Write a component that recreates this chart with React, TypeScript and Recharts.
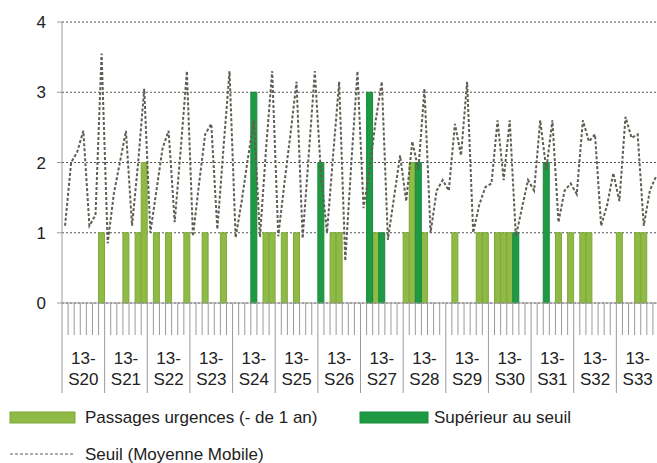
import React from "react";
import {
  ComposedChart,
  Bar,
  Line,
  XAxis,
  YAxis,
  CartesianGrid,
  Legend,
} from "recharts";

const FONT = '"Liberation Sans", Arial, sans-serif';
const LIGHT = "#8fba45";
const LIGHT_EDGE = "#7fa83a";
const DARK = "#1f9a44";
const DARK_EDGE = "#188a3a";
const LINE = "#5e5e52";

// 14 weeks, one row = one week (7 days)
const year = "13-";
const weeks = ["S20", "S21", "S22", "S23", "S24", "S25", "S26", "S27", "S28", "S29", "S30", "S31", "S32", "S33"];

// Passages urgences (- de 1 an), under the threshold
const passages = [
  0, 0, 0, 0, 0, 0, 1,
  0, 0, 0, 1, 0, 1, 2,
  0, 1, 0, 1, 0, 0, 1,
  0, 0, 1, 0, 0, 1, 0,
  0, 0, 0, 0, 0, 1, 1,
  0, 1, 0, 1, 0, 0, 0,
  0, 0, 1, 1, 0, 0, 0,
  0, 0, 1, 0, 0, 0, 0,
  1, 2, 0, 1, 0, 0, 0,
  0, 1, 0, 0, 0, 1, 1,
  0, 1, 1, 1, 0, 0, 0,
  0, 0, 0, 0, 1, 0, 1,
  0, 1, 1, 0, 0, 0, 0,
  1, 0, 0, 1, 1, 0, 0,
];

// Supérieur au seuil
const superieur = [
  0, 0, 0, 0, 0, 0, 0,
  0, 0, 0, 0, 0, 0, 0,
  0, 0, 0, 0, 0, 0, 0,
  0, 0, 0, 0, 0, 0, 0,
  0, 0, 0, 3, 0, 0, 0,
  0, 0, 0, 0, 0, 0, 0,
  2, 0, 0, 0, 0, 0, 0,
  0, 3, 0, 1, 0, 0, 0,
  0, 0, 2, 0, 0, 0, 0,
  0, 0, 0, 0, 0, 0, 0,
  0, 0, 0, 0, 1, 0, 0,
  0, 0, 2, 0, 0, 0, 0,
  0, 0, 0, 0, 0, 0, 0,
  0, 0, 0, 0, 0, 0, 0,
];

// Seuil (Moyenne Mobile)
const seuil = [
  1.1, 2.0, 2.15, 2.45, 1.1, 1.25, 3.55,
  0.85, 1.55, 2.0, 2.45, 1.1, 2.0, 3.05,
  1.0, 1.6, 2.2, 2.45, 1.15, 2.2, 3.3,
  0.95, 1.7, 2.4, 2.55, 1.05, 2.2, 3.3,
  0.93, 1.45, 2.05, 2.6, 0.94, 2.2, 3.3,
  0.95, 1.7, 2.4, 3.15, 0.92, 2.1, 3.3,
  1.85, 1.0, 2.1, 3.15, 0.6, 2.0, 3.3,
  1.35, 1.9, 2.6, 3.15, 0.9, 1.5, 2.1,
  1.45, 2.3, 1.9, 3.05, 1.0, 1.6, 1.75,
  1.6, 2.55, 2.1, 3.15, 1.0, 1.4, 1.65,
  1.7, 2.6, 1.75, 2.6, 0.95, 1.35, 1.75,
  1.6, 2.6, 1.9, 2.6, 1.15, 1.6, 1.7,
  1.55, 2.6, 2.3, 2.4, 1.1, 1.4, 1.85,
  1.45, 2.65, 2.35, 2.4, 1.1, 1.6, 1.8,
];

const data = seuil.map((s, i) => ({
  day: i,
  passages: passages[i],
  superieur: superieur[i],
  seuil: s,
}));

const CHART_W = 659;
const LEFT = 62;
const DAY_W = (CHART_W - LEFT) / data.length;

// ticks sit between days, week separators run down through the labels
function DayTick(props: any) {
  const { x, y, payload } = props;
  const i = Number(payload.value);
  const left = x - DAY_W / 2;
  const weekStart = i % 7 === 0;
  return (
    <g>
      <line x1={left} x2={left} y1={y} y2={y + (weekStart ? 90 : 32)} stroke="#9a9a9a" />
      {i % 7 === 3 && (
        <text textAnchor="middle" fontFamily={FONT} fontSize={17} fill="#222">
          <tspan x={x} y={y + 61}>{year}</tspan>
          <tspan x={x} y={y + 82}>{weeks[Math.floor(i / 7)]}</tspan>
        </text>
      )}
    </g>
  );
}

function LegendBox() {
  return (
    <svg width={657} height={60} style={{ display: "block" }}>
      <g fontFamily={FONT} fontSize={17} fill="#222">
        <rect x={10} y={9} width={65} height={11} fill={LIGHT} stroke={LIGHT_EDGE} />
        <text x={85} y={20}>Passages urgences (- de 1 an)</text>
        <rect x={360} y={9} width={68} height={11} fill={DARK} stroke={DARK_EDGE} />
        <text x={434} y={20}>Supérieur au seuil</text>
        <line x1={10} x2={75} y1={51} y2={51} stroke={LINE} strokeDasharray="3 2" />
        <text x={85} y={57}>Seuil (Moyenne Mobile)</text>
      </g>
    </svg>
  );
}

export default function App() {
  return (
    <div
      style={{
        position: "absolute",
        left: 0,
        top: 0,
        width: 657,
        height: 463,
        overflow: "hidden",
        background: "#fff",
      }}
    >
      <ComposedChart
        width={CHART_W}
        height={463}
        data={data}
        margin={{ top: 22, right: 0, bottom: 70, left: 0 }}
        barCategoryGap={0}
        barGap={0}
      >
        <CartesianGrid horizontal vertical={false} stroke="#555" strokeDasharray="2 2" />
        <XAxis
          dataKey="day"
          interval={0}
          tickLine={false}
          tickSize={0}
          tickMargin={0}
          height={90}
          axisLine={{ stroke: "#9a9a9a" }}
          tick={(p: any) => <DayTick {...p} />}
        />
        <YAxis
          domain={[0, 4]}
          ticks={[0, 1, 2, 3, 4]}
          interval={0}
          width={LEFT}
          tickSize={5}
          tickMargin={11}
          axisLine={{ stroke: "#9a9a9a" }}
          tickLine={{ stroke: "#9a9a9a" }}
          tick={{ fontSize: 17, fill: "#222", fontFamily: FONT }}
        />
        <Bar
          dataKey="passages"
          stackId="j"
          fill={LIGHT}
          stroke={LIGHT_EDGE}
          strokeWidth={1}
          isAnimationActive={false}
        />
        <Bar
          dataKey="superieur"
          stackId="j"
          fill={DARK}
          stroke={DARK_EDGE}
          strokeWidth={1}
          isAnimationActive={false}
        />
        <Line
          dataKey="seuil"
          type="linear"
          stroke={LINE}
          strokeWidth={2}
          strokeDasharray="3 2"
          dot={false}
          isAnimationActive={false}
        />
        <Legend
          layout="horizontal"
          verticalAlign="middle"
          align="center"
          wrapperStyle={{ top: 403, left: 0, width: 657, height: 60 }}
          content={() => <LegendBox />}
        />
      </ComposedChart>
    </div>
  );
}
